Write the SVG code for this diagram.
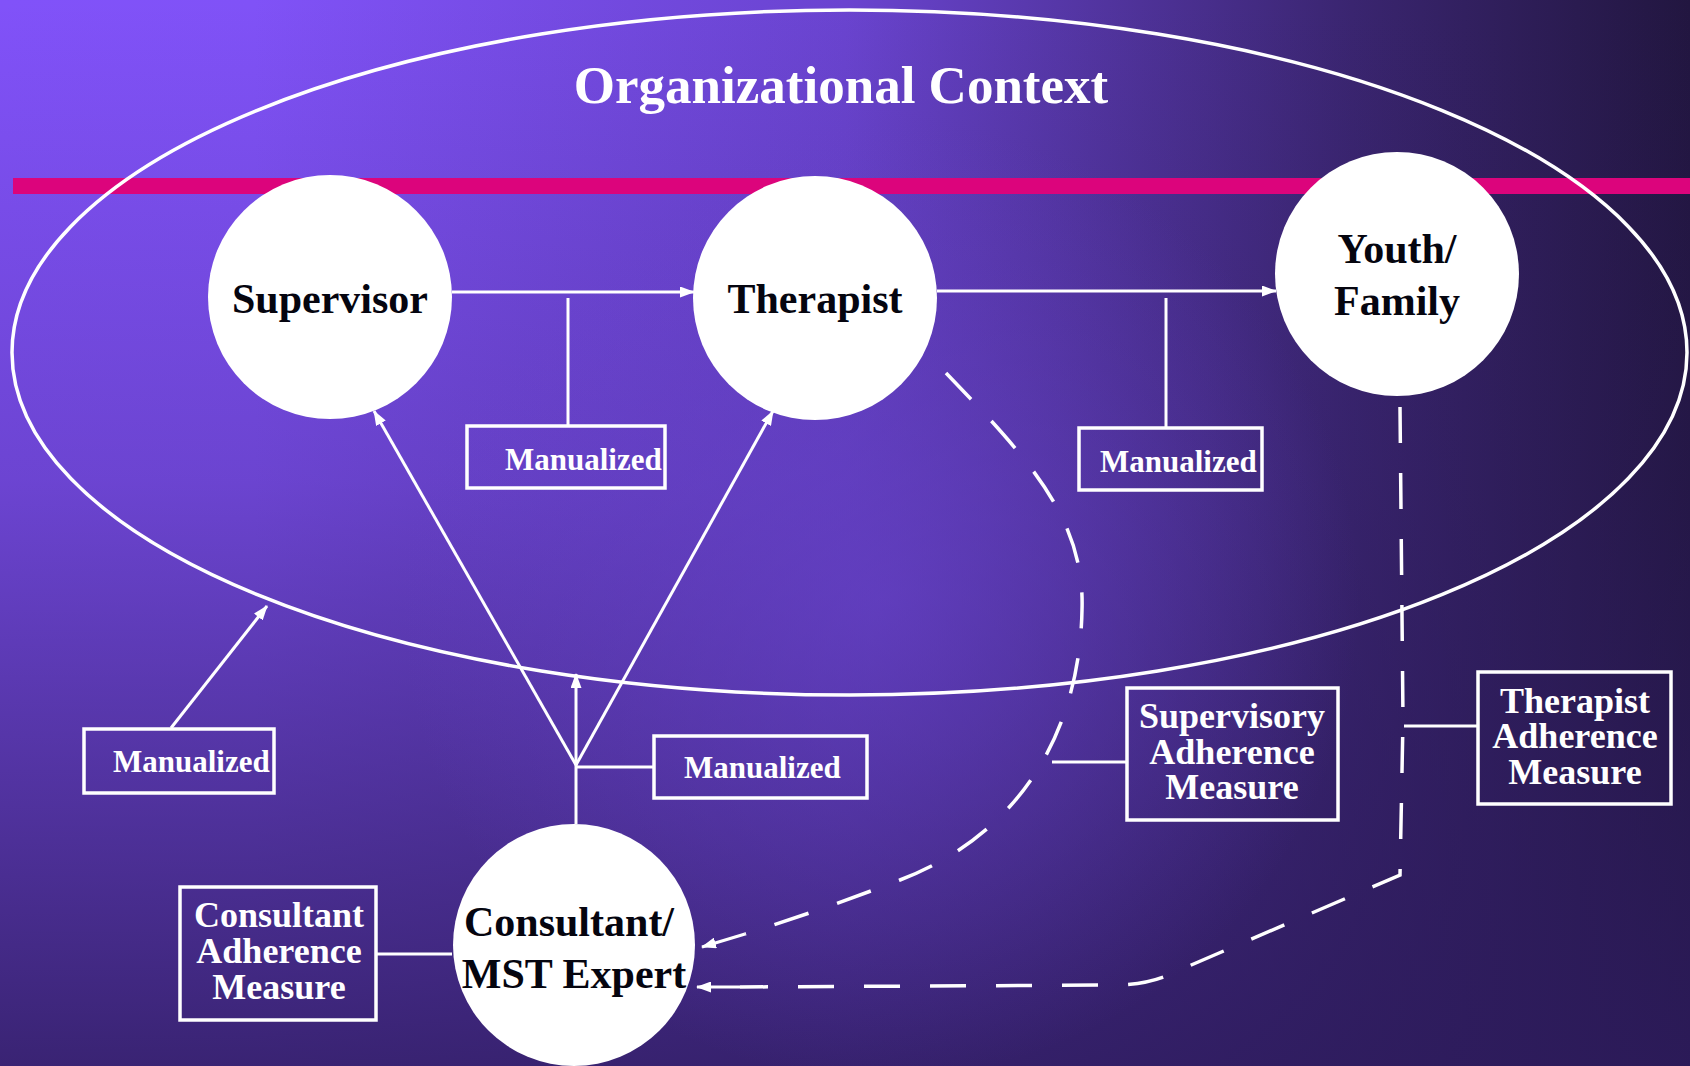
<svg xmlns="http://www.w3.org/2000/svg" width="1690" height="1066" viewBox="0 0 1690 1066">
<defs>
<linearGradient id="bgx" x1="0" y1="0" x2="1" y2="0">
<stop offset="0" stop-color="#8152F9"/>
<stop offset="0.15" stop-color="#8052F7"/>
<stop offset="0.5" stop-color="#6A44D0"/>
<stop offset="0.8" stop-color="#3A2570"/>
<stop offset="1" stop-color="#221640"/>
</linearGradient>
<linearGradient id="bgy" x1="0" y1="0" x2="0" y2="1">
<stop offset="0" stop-color="#2D1B5C" stop-opacity="0"/>
<stop offset="0.45" stop-color="#2D1B5C" stop-opacity="0.25"/>
<stop offset="1" stop-color="#2D1B5C" stop-opacity="0.85"/>
</linearGradient>
<radialGradient id="glow" cx="880" cy="600" r="480" gradientUnits="userSpaceOnUse">
<stop offset="0" stop-color="#6A44D0" stop-opacity="0.6"/>
<stop offset="1" stop-color="#6A44D0" stop-opacity="0"/>
</radialGradient>
<marker id="arr" markerUnits="userSpaceOnUse" markerWidth="15" markerHeight="11" refX="14" refY="5.5" orient="auto">
<path d="M0,0 L15,5.5 L0,11 Z" fill="#ffffff"/>
</marker>
<style>
.ln{stroke:#ffffff;stroke-width:3;fill:none}
.ell{stroke:#ffffff;stroke-width:3.5;fill:none}
.dash{stroke:#ffffff;stroke-width:3.5;fill:none;stroke-dasharray:36 30}
.box{stroke:#ffffff;stroke-width:3.5;fill:none}
.circ{fill:#ffffff}
.nt{font-family:"Liberation Serif","Times New Roman",serif;font-weight:bold;font-size:42px;fill:#05050f;text-anchor:middle}
.lab{font-family:"Liberation Serif","Times New Roman",serif;font-weight:bold;font-size:31px;fill:#ffffff}
.meas{font-family:"Liberation Serif","Times New Roman",serif;font-weight:bold;font-size:36px;fill:#ffffff;text-anchor:middle}
.title{font-family:"Liberation Serif","Times New Roman",serif;font-weight:bold;font-size:53px;fill:#ffffff;text-anchor:middle}
</style>
</defs>
<rect x="0" y="0" width="1690" height="1066" fill="url(#bgx)"/>
<rect x="0" y="0" width="1690" height="1066" fill="url(#bgy)"/>
<rect x="0" y="0" width="1690" height="1066" fill="url(#glow)"/>
<rect x="13" y="178" width="1677" height="16" fill="#DC047C"/>
<g id="context">
<ellipse cx="849.5" cy="352.5" rx="837.5" ry="342.5" class="ell"/>
<text x="841" y="103" class="title">Organizational Context</text>
</g>
<g id="connectors">
<line x1="452" y1="292" x2="694" y2="292" class="ln" marker-end="url(#arr)"/>
<line x1="937" y1="291" x2="1276" y2="291" class="ln" marker-end="url(#arr)"/>
<line x1="568" y1="298" x2="568" y2="426" class="ln"/>
<line x1="1166" y1="298" x2="1166" y2="428" class="ln"/>
<line x1="576" y1="824" x2="576" y2="674" class="ln" marker-end="url(#arr)"/>
<line x1="576" y1="765" x2="374" y2="411" class="ln" marker-end="url(#arr)"/>
<line x1="576" y1="765" x2="773" y2="411" class="ln" marker-end="url(#arr)"/>
<line x1="576" y1="767" x2="654" y2="767" class="ln"/>
<line x1="171" y1="728" x2="267" y2="606" class="ln" marker-end="url(#arr)"/>
<line x1="376" y1="954" x2="452" y2="954" class="ln"/>
<line x1="1127" y1="762" x2="1052" y2="762" class="ln"/>
<line x1="1478" y1="726" x2="1404" y2="726" class="ln"/>
<path d="M946,373 C1030,460 1085,520 1082,610 C1080,720 1030,830 900,880 C840,903 790,920 745,934" class="dash"/>
<line x1="745" y1="934" x2="702" y2="947" class="ln" marker-end="url(#arr)"/>
<path d="M1400,407 L1403,720 L1400,875 L1175,972 Q1150,985 1115,985 L740,987" class="dash"/>
<line x1="740" y1="987" x2="697" y2="987" class="ln" marker-end="url(#arr)"/>
</g>
<g id="supervisor">
<circle cx="330" cy="297" r="122" class="circ"/>
<text x="330" y="313" class="nt">Supervisor</text>
</g>
<g id="therapist">
<circle cx="815" cy="298" r="122" class="circ"/>
<text x="815" y="313" class="nt">Therapist</text>
</g>
<g id="youth">
<circle cx="1397" cy="274" r="122" class="circ"/>
<text x="1397" y="263" class="nt">Youth/</text>
<text x="1397" y="315" class="nt">Family</text>
</g>
<g id="consultant">
<circle cx="574" cy="945" r="121" class="circ"/>
<text x="569" y="936" class="nt">Consultant/</text>
<text x="574" y="988" class="nt">MST Expert</text>
</g>
<g id="manualized1">
<rect x="467" y="426" width="198" height="62" class="box"/>
<text x="505" y="470" class="lab">Manualized</text>
</g>
<g id="manualized2">
<rect x="1079" y="428" width="183" height="62" class="box"/>
<text x="1100" y="472" class="lab">Manualized</text>
</g>
<g id="manualized3">
<rect x="84" y="729" width="190" height="64" class="box"/>
<text x="113" y="772" class="lab">Manualized</text>
</g>
<g id="manualized4">
<rect x="654" y="736" width="213" height="62" class="box"/>
<text x="684" y="778" class="lab">Manualized</text>
</g>
<g id="consultant-measure">
<rect x="180" y="887" width="196" height="133" class="box"/>
<text x="279" y="927" class="meas">Consultant</text>
<text x="279" y="963" class="meas">Adherence</text>
<text x="279" y="999" class="meas">Measure</text>
</g>
<g id="supervisory-measure">
<rect x="1127" y="688" width="211" height="132" class="box"/>
<text x="1232" y="728" class="meas">Supervisory</text>
<text x="1232" y="764" class="meas">Adherence</text>
<text x="1232" y="799" class="meas">Measure</text>
</g>
<g id="therapist-measure">
<rect x="1478" y="672" width="193" height="132" class="box"/>
<text x="1575" y="713" class="meas">Therapist</text>
<text x="1575" y="748" class="meas">Adherence</text>
<text x="1575" y="784" class="meas">Measure</text>
</g>
</svg>
